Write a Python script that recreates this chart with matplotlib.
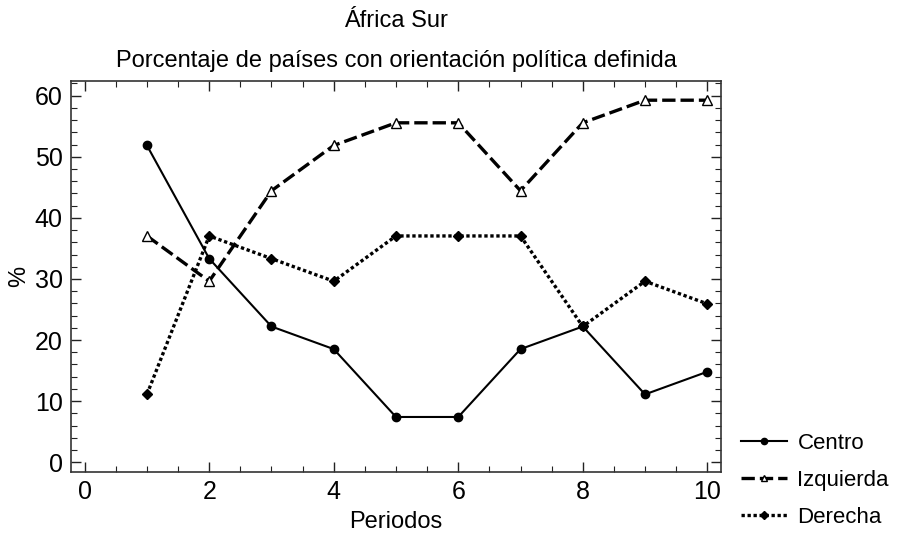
import matplotlib
matplotlib.use("Agg")
import matplotlib.pyplot as plt
from matplotlib.ticker import MultipleLocator

plt.rcParams['font.family'] = ['Liberation Sans', 'DejaVu Sans']

periodos = [1, 2, 3, 4, 5, 6, 7, 8, 9, 10]
centro = [51.85, 33.33, 22.22, 18.52, 7.41, 7.41, 18.52, 22.22, 11.11, 14.81]
izquierda = [37.04, 29.63, 44.44, 51.85, 55.56, 55.56, 44.44, 55.56, 59.26, 59.26]
derecha = [11.11, 37.04, 33.33, 29.63, 37.04, 37.04, 37.04, 22.22, 29.63, 25.93]

fig = plt.figure(figsize=(9.01, 5.33), dpi=100)
ax = fig.add_axes([0.0788, 0.1144, 0.7214, 0.7336])

l1, = ax.plot(periodos, centro, color='black', linestyle='-', linewidth=1.5,
              marker='o', markersize=6, label='Centro')
l2, = ax.plot(periodos, izquierda, color='black', linestyle=(0, (4, 1.5)), linewidth=2.4,
              marker='^', markersize=6.5, markerfacecolor='white', markeredgewidth=1.0,
              label='Izquierda')
l3, = ax.plot(periodos, derecha, color='black', linestyle=(0, (1, 0.8)), linewidth=2.4,
              marker='D', markersize=5, label='Derecha')

ax.set_xlim(-0.22, 10.22)
ax.set_ylim(-1.6, 62.4)
ax.xaxis.set_major_locator(MultipleLocator(2))
ax.xaxis.set_minor_locator(MultipleLocator(0.5))
ax.yaxis.set_major_locator(MultipleLocator(10))
ax.yaxis.set_minor_locator(MultipleLocator(2))
ax.tick_params(which='both', direction='in', top=True, right=True, labeltop=False, labelright=False)
ax.tick_params(which='major', length=7, width=1.0, labelsize=18, colors='#222222',
               labelcolor='black', pad=6)
ax.tick_params(which='minor', length=4, width=0.8, colors='#222222')
for s in ax.spines.values():
    s.set_linewidth(1.2)
    s.set_color('#333333')

ax.set_xlabel('Periodos', fontsize=17, labelpad=5)
ax.set_ylabel('%', fontsize=17, labelpad=3)
ax.set_title('África Sur\nPorcentaje de países con orientación política definida',
             fontsize=17, linespacing=2.05, pad=10)

fig.legend(handles=[l1, l2, l3], loc='lower left', bbox_to_anchor=(0.8, -0.028),
           frameon=False, fontsize=16, handlelength=2.1, labelspacing=0.72,
           handletextpad=0.45, markerscale=0.75)

fig.savefig('out.png', dpi=100)
